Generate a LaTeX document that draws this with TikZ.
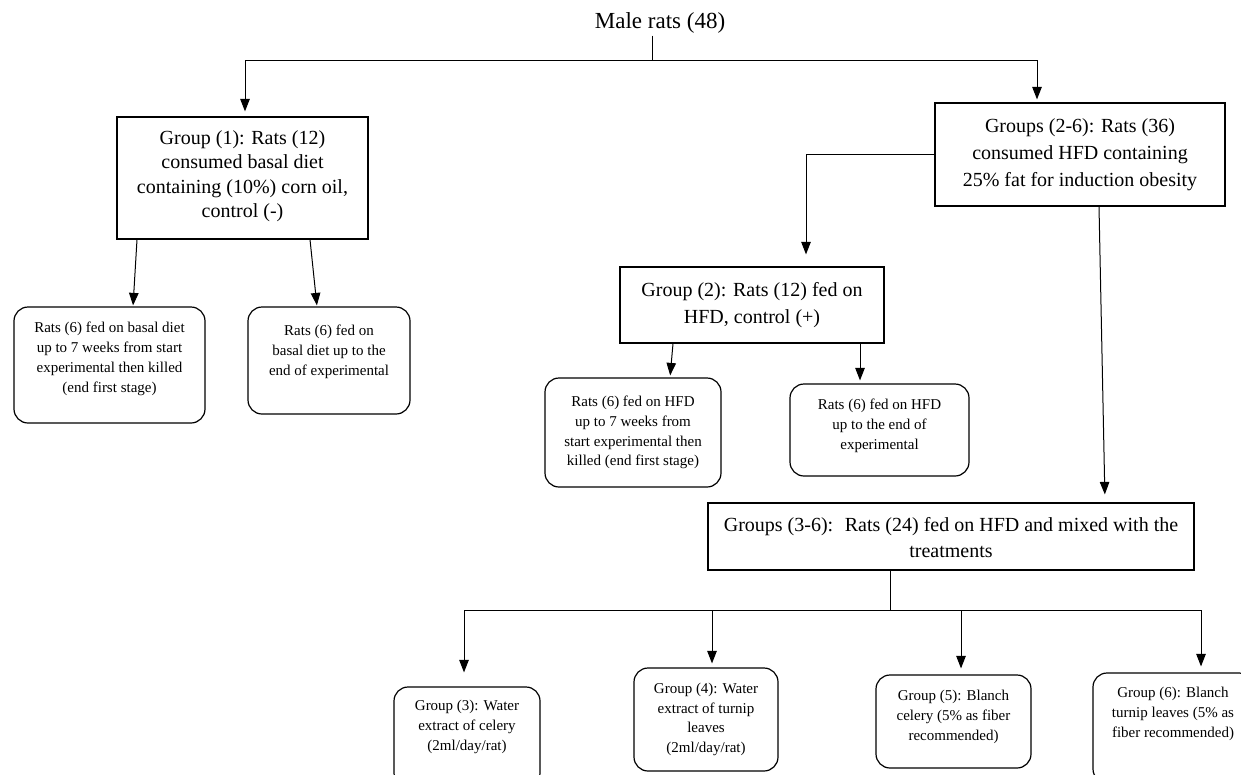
\documentclass[tikz,border=0pt]{standalone}
\usepackage{fontspec}
\setmainfont{Liberation Serif}
\usetikzlibrary{arrows.meta}
\begin{document}
\begin{tikzpicture}[x=1pt,y=-1pt,
  box/.style={draw, line width=1.2pt, inner sep=0pt},
  rbox/.style={box, rounded corners=14pt},
  big/.style={align=center, font=\fontsize{20}{24.5}\selectfont, inner sep=0pt},
  bigw/.style={align=center, font=\fontsize{20}{27}\selectfont, inner sep=0pt},
  small/.style={align=center, font=\fontsize{15}{19.8}\selectfont, inner sep=0pt},
  ln/.style={line width=1pt},
  arr/.style={ln, -{Triangle[length=12.5pt,width=9.5pt]}}]
\clip (0,0) rectangle (1241,774);
\fill[white] (0,0) rectangle (1241,774);
% title
\node[font=\fontsize{23}{27}\selectfont, inner sep=2pt] (mr) at (660,23) {Male rats (48)};
\coordinate (j0) at (652,60);
\coordinate (j3) at (890,610);
% boxes
\node[box, minimum width=251pt, minimum height=122pt] (g1) at (242.5,178) {};
\node[big, yshift=2pt] (t1) at (g1.center) {Group (1): Rats (12)\\consumed basal diet\\containing (10\%) corn oil,\\control (-)};
\node[box, minimum width=290pt, minimum height=103pt] (g26) at (1080,154.5) {};
\node[bigw] (t26) at (g26.center) {Groups (2-6): Rats (36)\\consumed HFD containing\\25\% fat for induction obesity};
\node[box, minimum width=264pt, minimum height=76pt] (g2) at (752,305) {};
\node[bigw] (t2) at (g2.center) {Group (2): Rats (12) fed on\\HFD, control (+)};
\node[box, minimum width=486pt, minimum height=67pt] (g36) at (951,536.5) {};
\node[bigw, font=\fontsize{20}{26}\selectfont, yshift=-1.5pt] (t36) at (g36.center) {Groups (3-6):~ Rats (24) fed on HFD and mixed with the\\treatments};
% group 1 children
\node[rbox, minimum width=191pt, minimum height=116pt] (c1a) at (109.5,365) {};
\node[small, yshift=6pt] (tc1a) at (c1a.center) {Rats (6) fed on basal diet\\up to 7 weeks from start\\experimental then killed\\(end first stage)};
\node[rbox, minimum width=162pt, minimum height=107pt] (c1b) at (329,360.5) {};
\node[small, yshift=8.5pt] (tc1b) at (c1b.center) {Rats (6) fed on\\basal diet up to the\\end of experimental};
% group 2 children
\node[rbox, minimum width=176pt, minimum height=109pt] (c2a) at (633,432.5) {};
\node[small] (tc2a) at (c2a.center) {Rats (6) fed on HFD\\up to 7 weeks from\\start experimental then\\killed (end first stage)};
\node[rbox, minimum width=179pt, minimum height=92pt] (c2b) at (879.5,430) {};
\node[small, yshift=4pt] (tc2b) at (c2b.center) {Rats (6) fed on HFD\\up to the end of\\experimental};
% treatment groups
\node[rbox, minimum width=146pt, minimum height=100pt] (g3) at (467,737) {};
\node[small, yshift=10pt] (tg3) at (g3.center) {Group (3): Water\\extract of celery\\(2ml/day/rat)};
\node[rbox, minimum width=144pt, minimum height=103pt] (g4) at (706,719.5) {};
\node[small] (tg4) at (g4.center) {Group (4): Water\\extract of turnip\\leaves\\(2ml/day/rat)};
\node[rbox, minimum width=155pt, minimum height=93pt] (g5) at (953.5,721.5) {};
\node[small, yshift=4.5pt] (tg5) at (g5.center) {Group (5): Blanch\\celery (5\% as fiber\\recommended)};
\node[rbox, minimum width=160pt, minimum height=110pt] (g6) at (1173,728) {};
\node[small, yshift=14pt] (tg6) at (g6.center) {Group (6): Blanch\\turnip leaves (5\% as\\fiber recommended)};
% connectors
\draw[ln] (mr.south -| j0) -- (j0);
\draw[arr, shorten >=5pt] (j0) -| ([xshift=2.5pt]g1.north);
\draw[arr, shorten >=3pt] (j0) -| ([xshift=-43pt]g26.north);
\draw[arr, shorten >=1pt] ([xshift=-105.5pt]g1.south) -- ([xshift=23.5pt]c1a.north);
\draw[arr, shorten >=1pt] ([xshift=67.5pt]g1.south) -- ([xshift=-12pt]c1b.north);
\draw[arr, shorten >=12pt] (g26.west) -| ([xshift=54pt]g2.north);
\draw[arr, shorten >=8pt] ([xshift=19pt]g26.south) -- ([xshift=154pt]g36.north);
\draw[arr, shorten >=2pt] ([xshift=-79pt]g2.south) -- ([xshift=37pt]c2a.north);
\draw[arr, shorten >=3pt] ([xshift=108pt]g2.south) -- ([xshift=-19.5pt]c2b.north);
\draw[ln] (g36.south -| j3) -- (j3);
\draw[arr, shorten >=14pt] (j3) -| ([xshift=-3pt]g3.north);
\draw[arr, shorten >=4pt] (j3) -| ([xshift=6pt]g4.north);
\draw[arr, shorten >=6pt] (j3) -| ([xshift=7.5pt]g5.north);
\draw[arr, shorten >=6pt] (j3) -| ([xshift=28pt]g6.north);
\end{tikzpicture}
\end{document}
